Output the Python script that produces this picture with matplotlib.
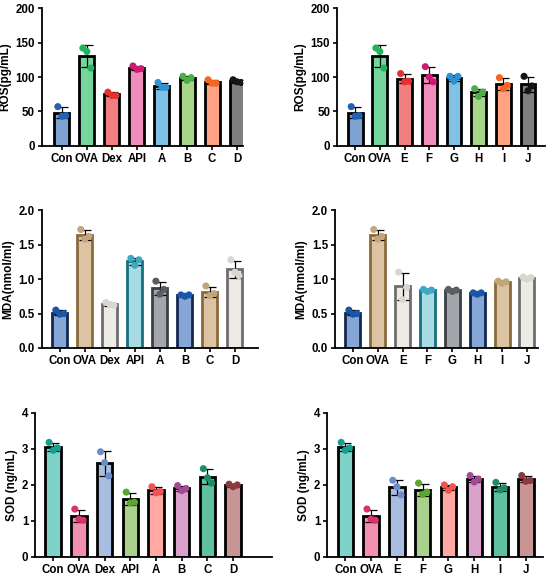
import numpy as np
import matplotlib
matplotlib.use("Agg")
import matplotlib.pyplot as plt

plt.rcParams["font.family"] = ["Liberation Sans", "DejaVu Sans"]
plt.rcParams["font.weight"] = "bold"

# ---- data ----
groups_left = ["Con", "OVA", "Dex", "API", "A", "B", "C", "D"]
groups_right = ["Con", "OVA", "E", "F", "G", "H", "I", "J"]

ros_left_pts = [[57, 43, 44], [142, 137, 113], [78, 73, 73], [116, 111, 112],
                [92, 85, 85], [101, 95, 99], [96, 91, 91], [96, 93, 92]]
ros_right_pts = [[57, 43, 44], [142, 137, 113], [105, 93, 94], [115, 100, 93],
                 [101, 94, 101], [83, 72, 78], [99, 83, 88], [101, 80, 87]]

mda_left_pts = [[0.55, 0.49, 0.50], [1.72, 1.58, 1.62], [0.66, 0.63, 0.62], [1.30, 1.20, 1.28],
                [0.97, 0.78, 0.85], [0.77, 0.75, 0.77], [0.90, 0.76, 0.79], [1.28, 1.10, 1.05]]
mda_right_pts = [[0.55, 0.49, 0.50], [1.72, 1.58, 1.62], [1.10, 0.70, 0.88], [0.85, 0.82, 0.84],
                 [0.85, 0.82, 0.84], [0.80, 0.78, 0.80], [0.97, 0.94, 0.96], [1.03, 1.00, 1.02]]

sod_left_pts = [[3.18, 2.96, 3.03], [1.33, 1.05, 1.02], [2.92, 2.62, 2.25], [1.80, 1.50, 1.52],
                [1.95, 1.78, 1.82], [1.98, 1.84, 1.90], [2.45, 2.20, 2.05], [2.02, 1.95, 2.00]]
sod_right_pts = [[3.18, 2.96, 3.03], [1.33, 1.05, 1.02], [2.13, 1.95, 1.72], [2.05, 1.74, 1.80],
                 [2.00, 1.85, 1.95], [2.26, 2.08, 2.16], [2.07, 1.86, 1.92], [2.26, 2.10, 2.12]]

# fill / point colours
ros_left_fill = ["#7ea3d3", "#74d69c", "#f27f7f", "#f08dba", "#80c1e8", "#a7d68a", "#ffa283", "#7f7f7f"]
ros_left_dot = ["#1f63b5", "#22b35c", "#e5302d", "#cc1b72", "#2e92d4", "#4cae48", "#f4661f", "#151515"]
ros_right_fill = ["#7ea3d3", "#74d69c", "#f27f7f", "#f08dba", "#80c1e8", "#a7d68a", "#ffa283", "#7f7f7f"]
ros_right_dot = ["#1f63b5", "#22b35c", "#e5302d", "#cc1b72", "#2e92d4", "#4cae48", "#f4661f", "#151515"]

mda_left_fill = ["#86a6d6", "#dcc3a2", "#eeebe6", "#a9dbe5", "#a3a7ab", "#86a6d6", "#dcc3a2", "#eeebe6"]
mda_left_edge = ["#14284f", "#8a6a3c", "#6e6e6e", "#17707e", "#3c4044", "#14284f", "#8a6a3c", "#6e6e6e"]
mda_left_dot = ["#1a56a8", "#c2a57c", "#d9d6d0", "#3fa7c0", "#5a5e62", "#1a56a8", "#c2a57c", "#d9d6d0"]
mda_right_fill = ["#86a6d6", "#dcc3a2", "#eeebe6", "#a9dbe5", "#a3a7ab", "#86a6d6", "#dcc3a2", "#eeebe6"]
mda_right_edge = ["#14284f", "#8a6a3c", "#6e6e6e", "#17707e", "#3c4044", "#14284f", "#8a6a3c", "#6e6e6e"]
mda_right_dot = ["#1a56a8", "#c2a57c", "#d9d6d0", "#3fa7c0", "#5a5e62", "#1a56a8", "#c2a57c", "#d9d6d0"]

sod_left_fill = ["#7dd3c8", "#f08fae", "#a9bde0", "#a9d08c", "#ffa9a2", "#d8a2cb", "#5fc0a0", "#c99494"]
sod_left_dot = ["#13a08e", "#d8336c", "#6b8dc9", "#5ba332", "#f25252", "#a34a93", "#1b8d62", "#8b3b3b"]
sod_right_fill = ["#7dd3c8", "#f08fae", "#a9bde0", "#a9d08c", "#ffa9a2", "#d8a2cb", "#5fc0a0", "#c99494"]
sod_right_dot = ["#13a08e", "#d8336c", "#6b8dc9", "#5ba332", "#f25252", "#a34a93", "#1b8d62", "#8b3b3b"]

panels = [
    # rect, groups, points, fills, edges, dots, ylim, yticks, ylabel, xlim
    ([0.076, 0.748, 0.366, 0.238], groups_left, ros_left_pts, ros_left_fill, None, ros_left_dot,
     (0, 200), [0, 50, 100, 150, 200], "ROS(pg/mL)", (-0.8, 7.24)),
    ([0.613, 0.748, 0.378, 0.238], groups_right, ros_right_pts, ros_right_fill, None, ros_right_dot,
     (0, 200), [0, 50, 100, 150, 200], "ROS(pg/mL)", (-0.73, 7.69)),
    ([0.076, 0.399, 0.393, 0.238], groups_left, mda_left_pts, mda_left_fill, mda_left_edge, mda_left_dot,
     (0, 2.0), [0.0, 0.5, 1.0, 1.5, 2.0], "MDA(nmol/ml)", (-0.72, 7.92)),
    ([0.609, 0.399, 0.369, 0.238], groups_right, mda_right_pts, mda_right_fill, mda_right_edge, mda_right_dot,
     (0, 2.0), [0.0, 0.5, 1.0, 1.5, 2.0], "MDA(nmol/ml)", (-0.72, 7.44)),
    ([0.064, 0.038, 0.431, 0.249], groups_left, sod_left_pts, sod_left_fill, None, sod_left_dot,
     (0, 4), [0, 1, 2, 3, 4], "SOD (ng/mL)", (-0.7, 8.52)),
    ([0.595, 0.038, 0.392, 0.249], groups_right, sod_right_pts, sod_right_fill, None, sod_right_dot,
     (0, 4), [0, 1, 2, 3, 4], "SOD (ng/mL)", (-0.7, 7.66)),
]

fig = plt.figure(figsize=(5.5, 5.79), dpi=100)

for rect, groups, pts, fills, edges, dots, ylim, yticks, ylabel, xlim in panels:
    ax = fig.add_axes(rect)
    pts = np.array(pts)
    means = pts.mean(axis=1)
    sds = pts.std(axis=1, ddof=1)
    x = np.arange(len(groups))
    ecols = edges if edges is not None else ["black"] * len(groups)
    ax.bar(x, means, width=0.6, color=fills, edgecolor=ecols, linewidth=2.0, zorder=2)
    ax.errorbar(x, means, yerr=sds, fmt="none", ecolor="black", elinewidth=0.9,
                capsize=4, capthick=0.9, zorder=3)
    offs = np.array([-0.16, 0.0, 0.16])
    for i in range(len(groups)):
        ax.scatter(x[i] + offs, pts[i], s=26, color=dots[i], edgecolor="none", zorder=4)
    ax.set_xlim(*xlim)
    ax.set_ylim(*ylim)
    ax.set_yticks(yticks)
    if ylim[1] == 2.0:
        ax.set_yticklabels(["%.1f" % t for t in yticks])
    ax.set_xticks(x)
    ax.set_xticklabels(groups)
    ax.set_ylabel(ylabel, fontsize=8.5, fontweight="bold", labelpad=3)
    ax.tick_params(axis="both", labelsize=8.3, width=1.2, length=3, pad=2)
    for t in ax.get_xticklabels() + ax.get_yticklabels():
        t.set_fontweight("bold")
    ax.spines["top"].set_visible(False)
    ax.spines["right"].set_visible(False)
    ax.spines["left"].set_linewidth(1.3)
    ax.spines["bottom"].set_linewidth(1.3)

fig.savefig("out.png", dpi=100)
